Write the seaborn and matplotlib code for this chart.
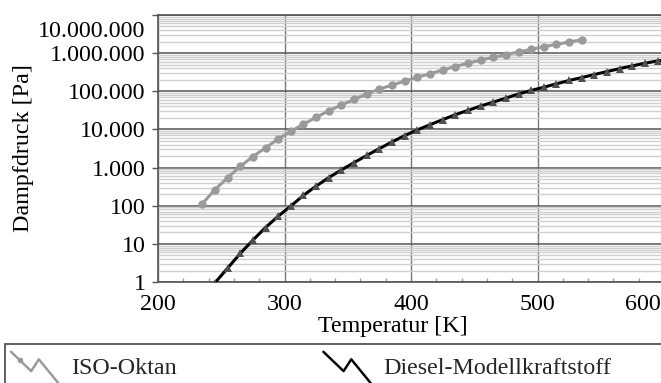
import numpy as np
import pandas as pd
import matplotlib
matplotlib.use("Agg")
import matplotlib.pyplot as plt
import seaborn as sns
from matplotlib.ticker import FixedLocator, MultipleLocator, LogLocator, NullFormatter
from matplotlib.lines import Line2D
from matplotlib.legend_handler import HandlerBase
from matplotlib.patches import Rectangle
from matplotlib.transforms import ScaledTranslation

# Vapour pressure curves [Pa] over temperature [K]
iso_temp = [235, 245, 255, 265, 275, 285, 295, 305, 315, 325, 335, 345, 355, 365,
            375, 385, 395, 405, 415, 425, 435, 445, 455, 465, 475, 485, 495, 505,
            515, 525, 535]
iso_pressure = [113, 263, 542, 1070, 1950, 3290, 5640, 8900, 13800, 20700, 31000,
                43600, 61000, 85000, 114000, 145000, 185000, 236000, 286000, 364000,
                445000, 545000, 653000, 780000, 913000, 1070000, 1260000, 1480000,
                1700000, 1960000, 2250000]

diesel_temp = [245, 255, 265, 275, 285, 295, 305, 315, 325, 335, 345, 355, 365, 375,
               385, 395, 405, 415, 425, 435, 445, 455, 465, 475, 485, 495, 505, 515,
               525, 535, 545, 555, 565, 575, 585, 595, 605]
diesel_pressure = [0.95, 2.3, 5.6, 12.5, 26.8, 53, 98, 187, 327, 545, 870, 1350, 2080,
                   3150, 4700, 6900, 9700, 13300, 18000, 24300, 31600, 41000, 52000,
                   66000, 85000, 105000, 128000, 157000, 192000, 229000, 275000,
                   329000, 394000, 463000, 545000, 625000, 710000]

series_names = ["ISO-Oktan", "Diesel-Modellkraftstoff"]
x_ticks = [200, 300, 400, 500, 600]
x_tick_labels = ["200", "300", "400", "500", "600"]
y_ticks = [1, 10, 100, 1e3, 1e4, 1e5, 1e6, 1e7]
y_tick_labels = ["1", "10", "100", "1.000", "10.000", "100.000", "1.000.000",
                 "10.000.000"]

sns.set_theme(style="white")
FONT = ["Liberation Serif", "DejaVu Serif"]
plt.rcParams["font.family"] = FONT

W, H, DPI = 661, 383, 100
FS = 17.3
DARK = "#555555"

fig = plt.figure(figsize=(W / DPI, H / DPI), dpi=DPI)
ax = fig.add_axes([158 / W, 1 - 282 / H, (664 - 158) / W, (282 - 15) / H])
ax.set_yscale("log")

iso_df = pd.DataFrame({"T": iso_temp, "p": iso_pressure})
diesel_df = pd.DataFrame({"T": diesel_temp, "p": diesel_pressure})

sns.lineplot(data=iso_df, x="T", y="p", ax=ax, color="#9a9a9a", lw=2.2,
             marker="o", markersize=6, markeredgewidth=0,
             label=series_names[0], zorder=4)
sns.lineplot(data=diesel_df, x="T", y="p", ax=ax, color="black", lw=2.2,
             marker="^", markersize=5.6, markerfacecolor="#505050",
             markeredgewidth=0, label=series_names[1], zorder=5)
if ax.get_legend() is not None:
    ax.get_legend().remove()

ax.set_xlim(200, 600)
ax.set_ylim(1, 1e7)

ax.yaxis.set_major_locator(FixedLocator(y_ticks))
ax.set_yticklabels(y_tick_labels)
ax.yaxis.set_minor_locator(LogLocator(base=10, subs=np.arange(2, 10), numticks=100))
ax.yaxis.set_minor_formatter(NullFormatter())
ax.set_xticks(x_ticks)
ax.set_xticklabels(x_tick_labels)
ax.xaxis.set_minor_locator(MultipleLocator(20))

ax.set_axisbelow(True)
ax.grid(which="major", axis="y", color=DARK, lw=1.1)
ax.grid(which="minor", axis="y", color="#cfcfcf", lw=1.0)
ax.grid(which="major", axis="x", color="#777777", lw=1.0)

ax.tick_params(axis="y", which="major", direction="out", length=4, width=1,
               color=DARK, pad=5, labelsize=FS, labelcolor="black", left=True)
ax.tick_params(axis="y", which="minor", length=0)
ax.tick_params(axis="x", which="major", direction="in", length=0, pad=9,
               labelsize=FS, labelcolor="black")
ax.tick_params(axis="x", which="minor", direction="in", length=3, width=1,
               color="#9a9a9a", bottom=True)

for side in ("left", "bottom", "top"):
    ax.spines[side].set_color(DARK)
    ax.spines[side].set_linewidth(1.2)
ax.spines["right"].set_visible(False)

for lbl in ax.get_xticklabels() + ax.get_yticklabels():
    lbl.set_fontfamily(FONT)

# top value label sits below the upper edge, last x label kept inside the canvas
top_y = ax.get_yticklabels()[-1]
top_y.set_va("top")
top_y.set_transform(top_y.get_transform()
                    + ScaledTranslation(0, -6 / DPI, fig.dpi_scale_trans))
last_x = ax.get_xticklabels()[-1]
last_x.set_ha("right")
last_x.set_transform(last_x.get_transform()
                     + ScaledTranslation(-3 / DPI, 0, fig.dpi_scale_trans))

ax.set_xlabel("Temperatur [K]", fontsize=FS, color="black")
ax.xaxis.set_label_coords(0.464, -0.128)
ax.set_ylabel("Dampfdruck [Pa]", fontsize=FS, color="black")
ax.yaxis.set_label_coords(-0.245, 0.5)


class ZigzagHandler(HandlerBase):
    """Legend key drawn as a small zigzag stroke."""

    def create_artists(self, legend, orig, xdescent, ydescent, width, height,
                       fontsize, trans):
        fx = np.array([0.0, 0.42, 0.58, 1.0])
        fy = np.array([1.15, 0.25, 0.8, -0.35])
        xs = fx * width - xdescent
        ys = fy * height - ydescent
        line = Line2D(xs, ys, color=orig.get_color(), lw=orig.get_linewidth() * 0.8)
        line.set_transform(trans)
        artists = [line]
        if orig.get_marker() == "o":
            mk = Line2D([xs[0] + 0.45 * (xs[1] - xs[0])],
                        [ys[0] + 0.45 * (ys[1] - ys[0])],
                        marker="o", ls="none", markersize=4,
                        color=orig.get_color(), markeredgewidth=0)
            mk.set_transform(trans)
            artists.append(mk)
        return artists


handles = [l for l in ax.get_lines() if l.get_label() in series_names]
fig.legend(handles=handles, labels=series_names,
           handler_map={Line2D: ZigzagHandler()},
           loc="upper left", bbox_to_anchor=(11 / W, 1 - 355 / H),
           ncol=2, frameon=False, fontsize=FS, handlelength=2.0,
           handleheight=1.0, handletextpad=0.5, columnspacing=6.1,
           borderpad=0, borderaxespad=0)

fig.patches.append(Rectangle((5 / W, -0.05), 1.0, 0.05 + (383 - 344) / H,
                             transform=fig.transFigure, fill=False,
                             edgecolor="#444444", lw=1.2))

fig.savefig("out.png", dpi=DPI, facecolor="white")
